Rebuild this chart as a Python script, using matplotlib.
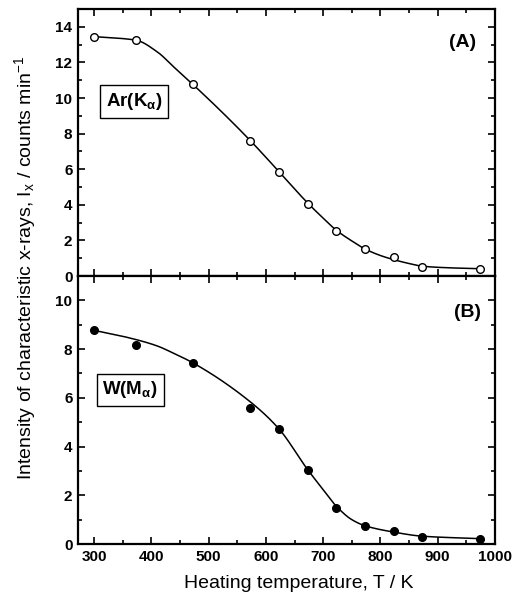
import numpy as np
import matplotlib
matplotlib.use("Agg")
import matplotlib.pyplot as plt
from matplotlib.ticker import MultipleLocator

plt.rcParams['font.family'] = ['Liberation Sans', 'DejaVu Sans']
plt.rcParams['mathtext.fontset'] = 'custom'
plt.rcParams['mathtext.rm'] = 'Liberation Sans'
plt.rcParams['mathtext.bf'] = 'Liberation Sans:bold'
plt.rcParams['mathtext.it'] = 'Liberation Sans:italic'

# Data points
temps = [300, 373, 473, 573, 623, 673, 723, 773, 823, 873, 973]
ar_ka = [13.45, 13.25, 10.77, 7.58, 5.83, 4.06, 2.55, 1.5, 1.05, 0.52, 0.41]
w_ma = [8.77, 8.18, 7.41, 5.57, 4.71, 3.02, 1.48, 0.73, 0.52, 0.30, 0.22]

# Fitted curves
curve_t_a = [300, 373, 410, 440, 473, 523, 573, 623, 673, 700, 723, 750, 773, 800, 823, 850, 873, 920, 973]
curve_a = [13.45, 13.25, 12.6, 11.72, 10.75, 9.22, 7.6, 5.86, 4.1, 3.25, 2.57, 1.97, 1.52, 1.15, 0.92, 0.7, 0.55, 0.46, 0.41]
curve_t_b = [300, 351, 409, 438, 473, 572, 623, 673, 700, 723, 750, 773, 823, 873, 973]
curve_b = [8.77, 8.52, 8.14, 7.84, 7.43, 5.85, 4.72, 3.05, 2.23, 1.55, 1.0, 0.75, 0.49, 0.32, 0.22]


def pchip(x, y, xs):
    x = np.asarray(x, float); y = np.asarray(y, float)
    h = np.diff(x); d = np.diff(y) / h
    n = len(x); m = np.zeros(n)
    for k in range(1, n - 1):
        if d[k - 1] * d[k] > 0:
            w1 = 2 * h[k] + h[k - 1]; w2 = h[k] + 2 * h[k - 1]
            m[k] = (w1 + w2) / (w1 / d[k - 1] + w2 / d[k])
    m[0] = d[0]; m[-1] = d[-1]
    idx = np.clip(np.searchsorted(x, xs) - 1, 0, n - 2)
    t = (xs - x[idx]) / h[idx]
    h00 = 2 * t**3 - 3 * t**2 + 1; h10 = t**3 - 2 * t**2 + t
    h01 = -2 * t**3 + 3 * t**2; h11 = t**3 - t**2
    return h00 * y[idx] + h10 * h[idx] * m[idx] + h01 * y[idx + 1] + h11 * h[idx] * m[idx + 1]


fig = plt.figure(figsize=(5.22, 5.98), dpi=100)
L, R = 78 / 522, 495 / 522
axA = fig.add_axes([L, 1 - 276 / 598, R - L, 267 / 598])
axB = fig.add_axes([L, 1 - 544 / 598, R - L, 268 / 598])

for ax in (axA, axB):
    ax.set_xlim(272, 1000)
    ax.xaxis.set_major_locator(MultipleLocator(100))
    ax.xaxis.set_minor_locator(MultipleLocator(50))
    ax.yaxis.set_major_locator(MultipleLocator(2))
    ax.yaxis.set_minor_locator(MultipleLocator(1))
    ax.tick_params(which='both', direction='in', top=True, right=True, width=1.2)
    ax.tick_params(which='major', length=5, labelsize=11, pad=4)
    ax.tick_params(which='minor', length=3)
    for s in ax.spines.values():
        s.set_linewidth(1.6)
    for lab in ax.get_xticklabels() + ax.get_yticklabels():
        lab.set_fontweight('bold')

axA.set_ylim(0, 15)
axB.set_ylim(0, 11)
axA.tick_params(labelbottom=False)

xs = np.linspace(300, 973, 500)
axA.plot(xs, pchip(curve_t_a, curve_a, xs), color='black', lw=1.1, zorder=2)
axA.plot(temps, ar_ka, 'o', mfc='white', mec='black', ms=5.5, mew=1.0, zorder=3)
axB.plot(xs, pchip(curve_t_b, curve_b, xs), color='black', lw=1.1, zorder=2)
axB.plot(temps, w_ma, 'o', color='black', ms=5.5, zorder=3)

box = dict(boxstyle='square,pad=0.3', facecolor='white', edgecolor='black', lw=1.0)
axA.text(370, 9.8, r'Ar(K$_{\mathregular{\alpha}}$)', fontsize=13.5, fontweight='bold',
         ha='center', va='center', bbox=box)
axB.text(363, 6.33, r'W(M$_{\mathregular{\alpha}}$)', fontsize=13.5, fontweight='bold',
         ha='center', va='center', bbox=box)
axA.text(944, 13.1, '(A)', fontsize=14, fontweight='bold', ha='center', va='center')
axB.text(952, 9.5, '(B)', fontsize=14, fontweight='bold', ha='center', va='center')

fig.text(25 / 522, 1 - 268 / 598,
         r'Intensity of characteristic x-rays, I$_{\mathregular{x}}$ / counts min$^{\mathregular{-1}}$',
         rotation=90, ha='center', va='center', fontsize=14)
fig.text(299 / 522, 1 - 583 / 598, 'Heating temperature, T / K',
         ha='center', va='center', fontsize=14)

fig.savefig('out.png', dpi=100)
